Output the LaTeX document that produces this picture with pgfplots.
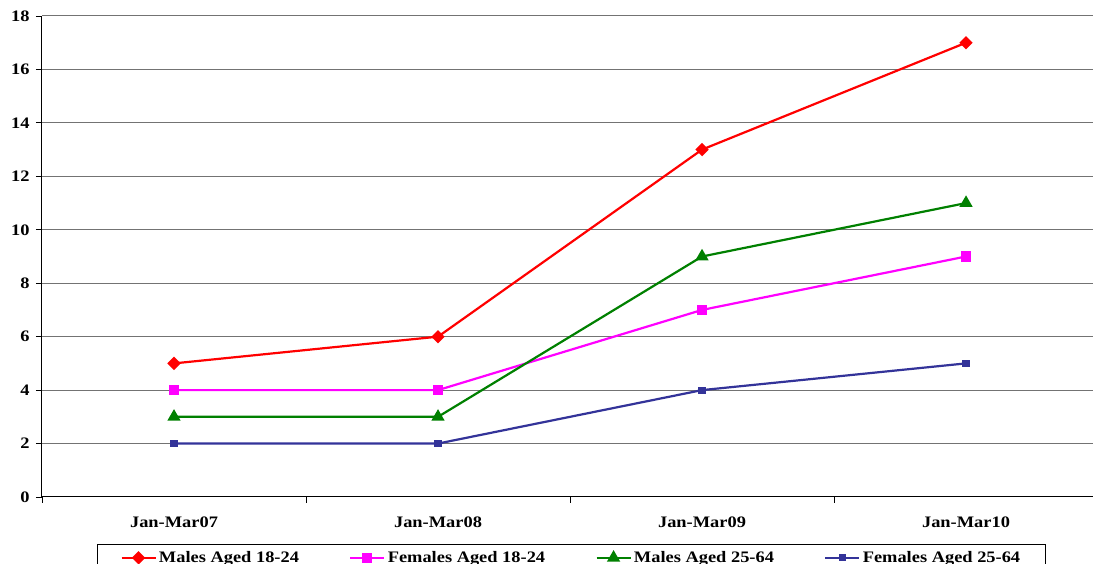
\documentclass[border=0pt]{standalone}
\usepackage{fontspec}
\setmainfont{Liberation Serif}
\usepackage{pgfplots}
\pgfplotsset{compat=1.18}
\definecolor{cRed}{RGB}{255,0,0}
\definecolor{cMag}{RGB}{255,0,255}
\definecolor{cGreen}{RGB}{0,128,0}
\definecolor{cBlue}{RGB}{51,51,153}
\begin{document}
\begin{tikzpicture}[x=1pt,y=1pt]
\clip (0,0) rectangle (1093,564);
\useasboundingbox (0,0) rectangle (1093,564);
\begin{axis}[
  at={(42pt,67pt)}, anchor=south west,
  scale only axis, width=1051pt, height=481pt,
  xmin=-0.5, xmax=3.481, ymin=0, ymax=18,
  axis x line*=bottom, axis y line*=left,
  axis line style={black, line width=1pt},
  xtick={0,1,2,3},
  xticklabels={Jan-Mar07,Jan-Mar08,Jan-Mar09,Jan-Mar10},
  minor xtick={-0.5,0.5,1.5,2.5},
  major x tick style={draw=none},
  ytick={0,2,...,18},
  tick align=outside,
  major tick length=6pt, minor tick length=6pt,
  tick style={black, line width=0.8pt},
  ymajorgrids, grid style={gray!90!black, line width=1pt},
  /pgf/number format/assume math mode=true,
  tick label style={font=\fontsize{16}{19}\selectfont\bfseries, xscale=1.15},
  xticklabel style={yshift=-10pt},
  yticklabel style={xshift=-2pt},
  legend columns=4,
  legend style={at={(rel axis cs:0.0523,-0.0977)}, anchor=north west,
    draw=black, line width=1pt, inner xsep=23pt, inner ysep=5pt,
    font=\fontsize{16}{19}\selectfont\bfseries,
    /tikz/every even column/.append style={column sep=48pt},
    nodes={xscale=1.15, inner sep=2pt}},
  legend image code/.code={
    \draw[mark repeat=2,mark phase=2] plot coordinates {(0pt,0pt) (17pt,0pt) (34pt,0pt)};},
  legend cell align=left,
]
\addplot[cRed, line width=2.2pt, mark=square*, mark size=3.6pt, mark options={solid, rotate=45}]
  coordinates {(0,5) (1,6) (2,13) (3,17)};
\addlegendentry{Males Aged 18-24}
\addplot[cMag, line width=2.2pt, mark=square*, mark size=4pt]
  coordinates {(0,4) (1,4) (2,7) (3,9)};
\addlegendentry{Females Aged 18-24}
\addplot[cGreen, line width=2.2pt, mark=triangle*, mark size=5.5pt]
  coordinates {(0,3) (1,3) (2,9) (3,11)};
\addlegendentry{Males Aged 25-64}
\addplot[cBlue, line width=2.2pt, mark=square*, mark size=2.5pt]
  coordinates {(0,2) (1,2) (2,4) (3,5)};
\addlegendentry{Females Aged 25-64}
\end{axis}
\end{tikzpicture}
\end{document}
